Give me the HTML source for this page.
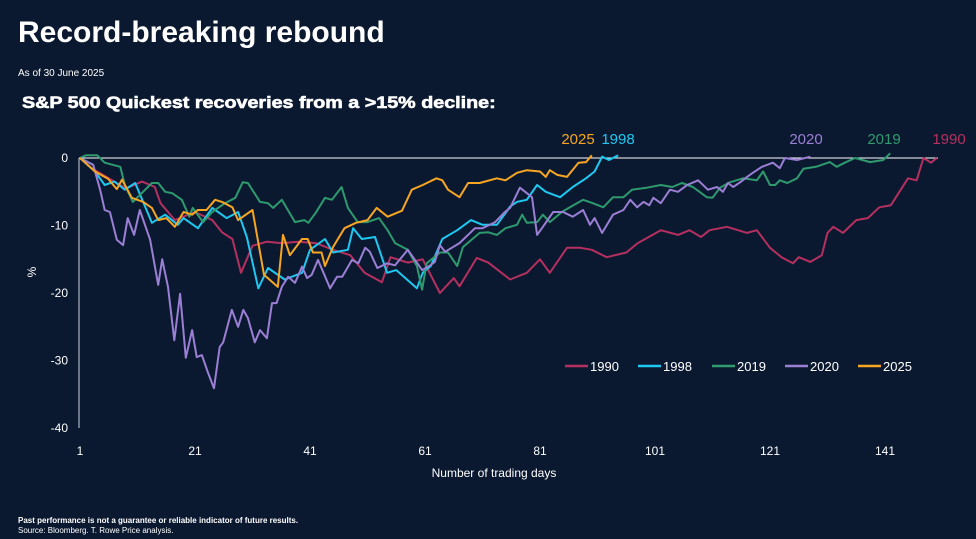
<!DOCTYPE html>
<html><head><meta charset="utf-8"><style>
body{margin:0;width:976px;height:539px;background:#0b1930;overflow:hidden;font-family:"Liberation Sans",Arial,sans-serif;color:#fff}
.t{position:absolute;white-space:nowrap}
</style></head><body>
<div class="t" style="left:18px;top:16px;font-size:30px;font-weight:bold;">Record-breaking rebound</div>
<div class="t" style="left:18px;top:68px;font-size:10px;">As of 30 June 2025</div>
<div class="t" style="left:22px;top:93px;font-size:17px;font-weight:900;transform:scaleX(1.16);transform-origin:left top;-webkit-text-stroke:0.6px #fff;">S&amp;P 500 Quickest recoveries from a &gt;15% decline:</div>
<div class="t" style="left:18px;top:516px;font-size:8px;font-weight:bold;">Past performance is not a guarantee or reliable indicator of future results.</div>
<div class="t" style="left:18px;top:526px;font-size:8px;">Source: Bloomberg. T. Rowe Price analysis.</div>
<svg id="chart" width="976" height="539" style="position:absolute;left:0;top:0" xmlns="http://www.w3.org/2000/svg"></svg>
<script>
const yTicks=[0,-10,-20,-30,-40];
const xTicks=[1,21,41,61,81,101,121,141];
const seriesNames=["1990","1998","2019","2020","2025"];
const colors=["#b5305f","#1ec8f0","#2e9a6e","#9b7fd4","#f6a623"];
const d1990=[1,3,5,7,9,11.8,14,15,17.5,21,24,25.7,27.5,29,31,33.5,36,39,42,45,48,50.5,53.5,55,58,60.6,63.6,66,67,70,72,75.8,78.7,81,82.7,85.7,88,90,92.6,96,98,102,105,107,109,110.5,113.5,117,118.7,121,123,125,126,128,130,131,132,133.7,136,138,140,142,145,146.5,147.7,149,150];
const v1990=[0,-1.5,-2.5,-3.5,-4.5,-3.5,-4.3,-6.7,-9.2,-8,-9.2,-11,-12,-17,-13,-12.4,-12.6,-12.4,-12.6,-13.6,-14.4,-17,-18.4,-14.7,-15.5,-15,-20,-17.8,-19,-14.8,-15.5,-18,-17,-15,-17,-13.3,-13.3,-13.6,-14.7,-14,-12.6,-10.7,-11.4,-10.7,-11.7,-10.7,-10.2,-11.1,-10.7,-13.3,-14.7,-15.6,-14.7,-15.4,-14.4,-11.1,-10.2,-11.1,-9.2,-8.9,-7.3,-7,-3,-3.3,0,-0.7,0];
const d1998=[1,3.6,5.3,7,8.8,10.6,13.5,15.8,18,19,21.5,24,26.5,28.5,30,32,33.7,36.6,39.6,41,43.6,45,47.6,48.5,50,52.3,54.4,56,59.6,60.6,62,64,66.6,69,71,73.5,75.8,77,78.7,80.5,82,84.5,86.7,89,90.5,91.8,93,94.6];
const v1998=[0,-2,-4,-3.5,-4.7,-3.7,-9.6,-8.4,-9.9,-8.9,-10.4,-7.4,-8.9,-8,-11.7,-19.3,-16.3,-18,-17,-13.6,-12,-14,-13.6,-10.4,-12,-11.7,-17,-16.6,-19.3,-17,-16,-12,-10.7,-9.2,-9.9,-9.9,-7.2,-6.5,-6.2,-4,-5,-5.8,-4.3,-3,-2,0.2,-0.3,0.4];
const d2019=[1,2,4,5.3,8,8.8,10.2,11.4,13.5,14.6,15.8,17,18.7,20,20.6,22.4,24,26.2,28,29.3,30.2,32.3,33.7,34.6,36.1,38.4,40,40.7,42,43.6,44.8,46.5,47.6,49.3,51,53,54.5,55.8,58,59.6,60.5,61.3,63.6,65,66.6,67.6,70.5,72,73.5,75,77,77.9,78.7,80.5,81.5,82.7,84.8,86.2,88.5,90.2,92,93.7,95.5,97,99.6,102,104,105.7,107.6,110,111,112.3,114,116.3,118.7,119.8,121,121.9,122.7,124,125.7,126.8,129,131.4,132.6,134,135.8,138.4,140.7,141.9];
const v2019=[0,0.4,0.4,-0.7,-1.3,-4,-6.5,-5.5,-3.7,-3.7,-5,-5.2,-6.2,-8.7,-7.4,-9.5,-8,-6.7,-5.9,-3.6,-3.7,-6.5,-6.7,-7.4,-6.2,-9.5,-9.2,-9.6,-8.1,-5.9,-6.2,-4.3,-7.4,-9.5,-9.5,-8.9,-10.7,-12.6,-13.6,-16,-19.5,-15.6,-14,-14,-16,-13.2,-11.1,-11,-11.4,-10.4,-9.9,-8.4,-9.6,-9.5,-8.4,-9.5,-8,-7.3,-6.2,-6.7,-7.3,-5.8,-5.8,-4.7,-4.4,-4,-4.3,-3.7,-4.3,-5.8,-5.9,-4.4,-3.6,-3,-3.3,-2,-4,-4,-3.3,-3.7,-3,-1.6,-1.3,-0.6,-1.3,-0.7,0,-0.6,-0.3,0.7];
const d2020=[1,3.3,4.5,5.3,6.2,7.4,8.5,9.3,10.4,11.4,13.2,14.6,15.3,16.3,17.4,18.4,19.4,20.5,21.3,22.2,23.3,24.3,25.3,25.9,27.4,28.5,29.4,30.2,31.4,32.3,33.5,34.4,35.2,36.1,37.2,38.4,39.6,40.5,41.3,42.4,44.5,45.7,46.6,48.3,49.4,50.6,51.4,52.7,54.4,55.8,58,60.5,61.9,62.7,63.6,64.5,67,69.7,71,73.2,74.9,75.8,77.5,79.6,80.5,81.5,83.3,85,86.7,88.5,89.7,90.5,91.8,93.7,95.5,96.7,97.9,99,100,100.7,102,103.6,105,106.6,108.5,110.2,111.8,112.8,113.7,114.6,115.8,117,118,119.6,121.5,122.7,123.6,125.7,128];
const v2020=[0,-1,-4.7,-7.7,-8,-12.1,-12.9,-8.9,-11.4,-7.7,-12.1,-18.8,-15,-19.1,-27,-20.1,-29.6,-25.5,-29.5,-29.2,-31.9,-34.1,-28,-27.3,-22.5,-25,-22.5,-23.7,-27.3,-25.5,-26.7,-21.5,-21.5,-19.1,-17.6,-18.5,-16.1,-17.8,-17.3,-15.1,-19.3,-17.6,-17.6,-15.1,-15.6,-13.3,-13.9,-16.3,-15.6,-15.9,-13.6,-16.6,-15.9,-15.4,-12.9,-13.9,-12.6,-10.4,-10.4,-9.5,-8,-7.4,-4.4,-5.8,-11.4,-10.2,-8,-8,-8.7,-7.7,-9.9,-8.9,-11.1,-8.4,-7.7,-6.2,-7.3,-6.5,-7,-5.9,-6.7,-4.7,-5,-4,-3.3,-4.7,-4.3,-5,-3.7,-4.3,-3.6,-2.8,-2.2,-1.3,-0.7,-1.5,0,-0.3,0.2];
const d2025=[1,3.6,5.9,7.4,8.3,10,12,13.5,14.6,16,17.5,19,20.5,21.5,23,24.5,25.7,27.5,28.5,31,33,35.4,36.3,37.5,39.6,40.6,41.5,43,43.6,45,47,49,51,52.6,54.5,57,58.7,60.6,63,64,65,67,68.5,70.5,73.5,75,77,78.7,81,82,82.7,84,85.7,87.7,89,90];
const v2025=[0,-2,-3.1,-4.6,-3.2,-5.9,-6.5,-7.4,-9.2,-8.9,-10.2,-8,-8.4,-7.7,-7.7,-6.2,-6.5,-7.3,-9.2,-7.7,-17.3,-19.1,-11.4,-14.4,-12,-12,-14,-14,-16,-13.2,-10.4,-9.6,-9.2,-7.4,-8.7,-7.8,-4.7,-4,-3,-3.3,-4.7,-5.8,-3.7,-3.7,-3,-3.3,-2.2,-1.8,-2,-2.8,-1.8,-2.5,-2.8,-0.7,-0.6,0.4];
const allDays=[d1990,d1998,d2019,d2020,d2025];
const allVals=[v1990,v1998,v2019,v2020,v2025];
const endLabelX=[949,618,884,806,578];

const svg=document.getElementById('chart');
const NS='http://www.w3.org/2000/svg';
const X0=80,XS=5.75,Y0=158,YS=6.75;
function xs(d){return X0+(d-1)*XS;}
function ys(v){return Y0-v*YS;}
function mk(tag,attrs,txt){const e=document.createElementNS(NS,tag);for(const k in attrs)e.setAttribute(k,attrs[k]);if(txt!==undefined)e.textContent=txt;svg.appendChild(e);return e;}

let e=mk('line',{x1:79,y1:ys(0),x2:79,y2:ys(-40),stroke:'#8a94a3','stroke-width':1.5});


yTicks.forEach(t=>{
 const l=mk('text',{x:68,y:ys(t)+4,'text-anchor':'end','font-size':12,fill:'#fff','font-family':'Liberation Sans'},String(t));
 
 
});
xTicks.forEach(t=>{
 const l=mk('text',{x:xs(t),y:455,'text-anchor':'middle','font-size':12,fill:'#fff','font-family':'Liberation Sans'},String(t));
 
 
});
e=mk('text',{x:494,y:477,'text-anchor':'middle','font-size':12,fill:'#fff','font-family':'Liberation Sans'},'Number of trading days');


e=mk('text',{x:32,y:276,'text-anchor':'middle','font-size':12,fill:'#fff','font-family':'Liberation Sans',transform:'rotate(-90 32 272)'},'%');


e=mk('line',{x1:79,y1:ys(0),x2:938,y2:ys(0),stroke:'#fff','stroke-width':1});



allDays.forEach((days,i)=>{
 const pts=days.map((d,j)=>xs(d).toFixed(1)+','+ys(allVals[i][j]).toFixed(1)).join(' ');
 const p=mk('polyline',{points:pts,fill:'none',stroke:colors[i],'stroke-width':2,'stroke-linejoin':'round'});
 
 
 const lb=mk('text',{x:endLabelX[i],y:144,'text-anchor':'middle','font-size':15,fill:colors[i],'font-family':'Liberation Sans'},seriesNames[i]);
 
 
});
const legX=[565,638,712,785,858];
seriesNames.forEach((n,i)=>{
 const g=mk('g',{});
 
 
 const l=document.createElementNS(NS,'line');
 l.setAttribute('x1',legX[i]);l.setAttribute('x2',legX[i]+23);l.setAttribute('y1',366);l.setAttribute('y2',366);
 l.setAttribute('stroke',colors[i]);l.setAttribute('stroke-width',2.5);
 g.appendChild(l);
 const t=document.createElementNS(NS,'text');
 t.setAttribute('x',legX[i]+25);t.setAttribute('y',371);t.setAttribute('font-size',13);t.setAttribute('fill','#fff');t.setAttribute('font-family','Liberation Sans');
 t.textContent=n;g.appendChild(t);
});
</script>
</body></html>
